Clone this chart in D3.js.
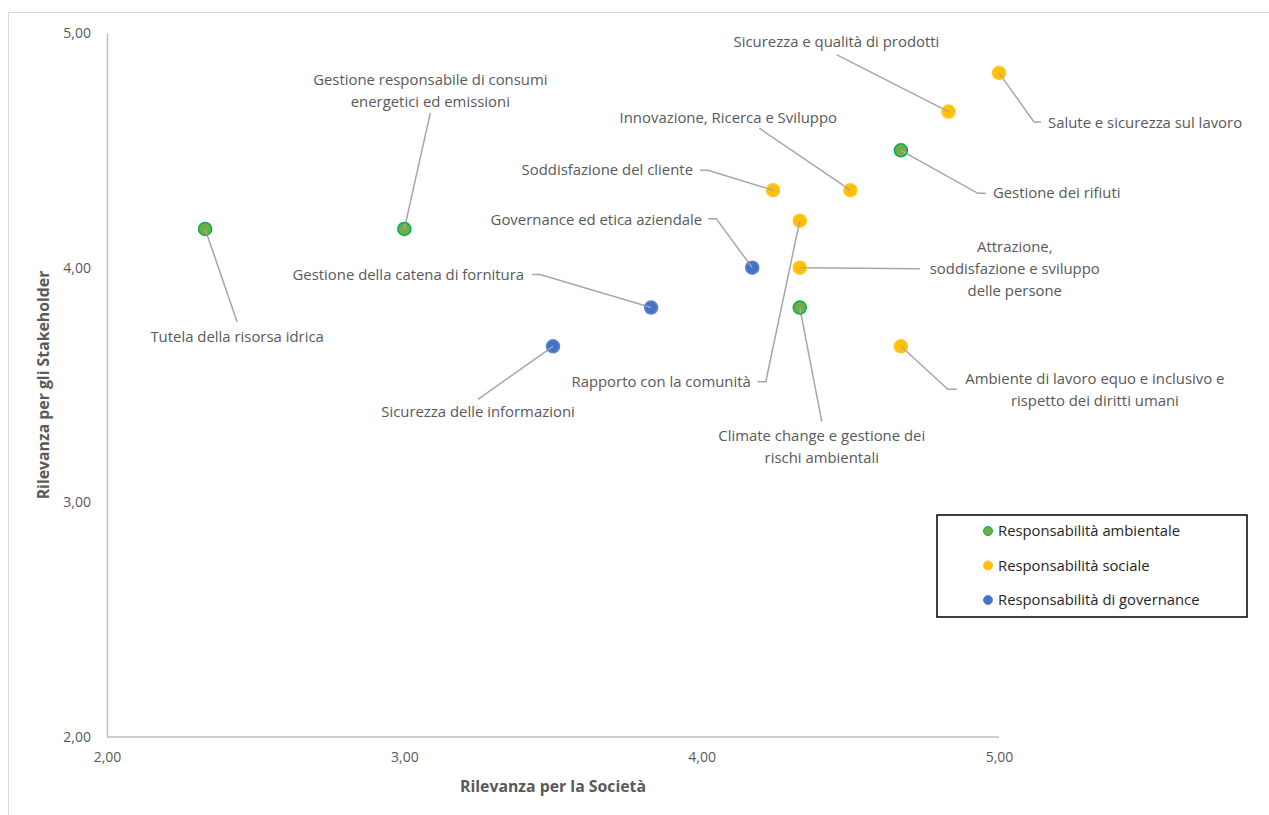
<!DOCTYPE html>
<html lang="it">
  <head>
    <meta charset="UTF-8">
    <title>Matrice di materialità</title>
    <style>
      body { margin: 0; background: #fff; }
      svg { display: block; font-family: "Open Sans", Lato, sans-serif; }
    </style>
    <script src="https://d3js.org/d3.v7.min.js"></script>
  </head>
  <body>
    <script>
      // temi materiali
      var topics = [
        ["Tutela della risorsa idrica"],
        ["Gestione responsabile di consumi", "energetici ed emissioni"],
        ["Sicurezza delle informazioni"],
        ["Gestione della catena di fornitura"],
        ["Governance ed etica aziendale"],
        ["Soddisfazione del cliente"],
        ["Innovazione, Ricerca e Sviluppo"],
        ["Sicurezza e qualità di prodotti"],
        ["Salute e sicurezza sul lavoro"],
        ["Gestione dei rifiuti"],
        ["Attrazione,", "soddisfazione e sviluppo", "delle persone"],
        ["Rapporto con la comunità"],
        ["Climate change e gestione dei", "rischi ambientali"],
        ["Ambiente di lavoro equo e inclusivo e", "rispetto dei diritti umani"]
      ];
      var societa     = [2.33, 3.00, 3.50, 3.83, 4.17, 4.24, 4.50, 4.83, 5.00, 4.67, 4.33, 4.33, 4.33, 4.67];
      var stakeholder = [4.165, 4.165, 3.665, 3.83, 4.00, 4.33, 4.33, 4.665, 4.83, 4.50, 4.00, 4.20, 3.83, 3.665];
      var area = ["amb", "amb", "gov", "gov", "gov", "soc", "soc", "soc", "soc", "amb", "soc", "soc", "amb", "soc"];

      var groupKeys = ["amb", "soc", "gov"];
      var groupNames = ["Responsabilità ambientale", "Responsabilità sociale", "Responsabilità di governance"];
      var tickValues = [2, 3, 4, 5];

      // label placement, pixel offsets from the point (layout only)
      var labelLayout = [
        {dx: 32, dy: 108, anchor: "middle", leader: [[32, 93]]},
        {dx: 26, dy: -149, anchor: "middle", leader: [[26, -116]]},
        {dx: -75, dy: 66, anchor: "middle", leader: [[-75, 53]]},
        {dx: -127, dy: -33, anchor: "end", leader: [[-111, -33], [-119, -33]]},
        {dx: -50, dy: -48, anchor: "end", leader: [[-36, -49], [-44, -49]]},
        {dx: -80, dy: -20, anchor: "end", leader: [[-65, -20], [-73, -20]]},
        {dx: -122, dy: -72, anchor: "middle", leader: [[-91, -62]]},
        {dx: -112, dy: -70, anchor: "middle", leader: [[-112, -57]]},
        {dx: 49, dy: 50, anchor: "start", leader: [[35, 49], [42, 49]]},
        {dx: 92, dy: 43, anchor: "start", leader: [[77, 43], [85, 43]]},
        {dx: 215, dy: -21, anchor: "middle", leader: [[120, 1]]},
        {dx: -49, dy: 161, anchor: "end", leader: [[-34, 161], [-42, 161]]},
        {dx: 22, dy: 128, anchor: "middle", leader: [[22, 114]]},
        {dx: 194, dy: 33, anchor: "middle", leader: [[47, 43], [56, 43]]}
      ];

      var fill = {amb: "#70ad47", soc: "#ffc000", gov: "#4472c4"};
      var edge = {amb: "#00b050", soc: "#ffc720", gov: "#5b85d0"};
      var fmt = function (d) { return d3.format(".2f")(d).replace(".", ","); };

      var width = 1269, height = 815;
      var svg = d3.select("body").append("svg")
        .attr("width", width)
        .attr("height", height);

      svg.append("rect")
        .attr("x", 8.5).attr("y", 12.5)
        .attr("width", 1400).attr("height", 900)
        .attr("fill", "#fff")
        .attr("stroke", "#d9d9d9");

      var x = d3.scaleLinear().domain([2, 5]).range([107, 999]);
      var y = d3.scaleLinear().domain([2, 5]).range([737, 33]);

      var xAxis = d3.axisBottom(x).tickValues(tickValues).tickFormat(fmt).tickSize(0).tickPadding(15);
      var yAxis = d3.axisLeft(y).tickValues(tickValues).tickFormat(fmt).tickSize(0).tickPadding(16);

      var gx = svg.append("g").attr("transform", "translate(0,737)").call(xAxis);
      var gy = svg.append("g").attr("transform", "translate(107,0)").call(yAxis);
      [gx, gy].forEach(function (g) {
        g.select(".domain").attr("stroke", "#bfbfbf").attr("stroke-width", 1.5);
        g.selectAll("text").attr("fill", "#595959").style("font-size", "14px")
          .style("font-family", "'Open Sans', Lato, sans-serif");
      });
      gx.select(".domain").attr("d", "M107,0H999");

      svg.append("text")
        .attr("x", 553).attr("y", 792)
        .attr("text-anchor", "middle")
        .attr("fill", "#595959")
        .style("font-size", "15.8px").style("font-weight", "bold")
        .text("Rilevanza per la Società");

      svg.append("text")
        .attr("transform", "translate(49,385) rotate(-90)")
        .attr("text-anchor", "middle")
        .attr("fill", "#595959")
        .style("font-size", "15.8px").style("font-weight", "bold")
        .text("Rilevanza per gli Stakeholder");

      var idx = d3.range(topics.length);

      // leader lines
      svg.append("g").selectAll("polyline").data(idx).enter()
        .append("polyline")
        .attr("points", function (i) {
          var px = x(societa[i]), py = y(stakeholder[i]);
          var pts = [[px, py]].concat(labelLayout[i].leader.map(function (p) {
            return [px + p[0], py + p[1]];
          }));
          return pts.map(function (p) { return p.join(","); }).join(" ");
        })
        .attr("fill", "none")
        .attr("stroke", "#a6a6a6")
        .attr("stroke-width", 1.5);

      // points
      svg.append("g").selectAll("circle").data(idx).enter()
        .append("circle")
        .attr("cx", function (i) { return x(societa[i]); })
        .attr("cy", function (i) { return y(stakeholder[i]); })
        .attr("r", 6.5)
        .attr("fill", function (i) { return fill[area[i]]; })
        .attr("stroke", function (i) { return edge[area[i]]; })
        .attr("stroke-width", 1.5);

      // leader start drawn again over the marker
      svg.append("g").selectAll("line").data(idx).enter()
        .append("line")
        .attr("x1", function (i) { return x(societa[i]); })
        .attr("y1", function (i) { return y(stakeholder[i]); })
        .attr("x2", function (i) {
          var p = labelLayout[i].leader[0];
          return x(societa[i]) + p[0] / Math.hypot(p[0], p[1]) * 6;
        })
        .attr("y2", function (i) {
          var p = labelLayout[i].leader[0];
          return y(stakeholder[i]) + p[1] / Math.hypot(p[0], p[1]) * 6;
        })
        .attr("stroke", "#a6a6a6")
        .attr("stroke-width", 1.5);

      // labels
      var labels = svg.append("g").selectAll("text").data(idx).enter()
        .append("text")
        .attr("text-anchor", function (i) { return labelLayout[i].anchor; })
        .attr("fill", "#595959")
        .style("font-size", "14.9px");
      labels.each(function (i) {
        var t = d3.select(this);
        var px = x(societa[i]) + labelLayout[i].dx;
        var py = y(stakeholder[i]) + labelLayout[i].dy;
        topics[i].forEach(function (line, k) {
          t.append("tspan").attr("x", px).attr("y", py + 5 + k * 22).text(line);
        });
      });

      // legend
      var lg = svg.append("g").attr("transform", "translate(937,515)");
      lg.append("rect")
        .attr("width", 310).attr("height", 102)
        .attr("fill", "#fff")
        .attr("stroke", "#000").attr("stroke-width", 1.5);
      var items = lg.selectAll("g.item").data(groupKeys).enter()
        .append("g").attr("class", "item")
        .attr("transform", function (d, i) { return "translate(0," + (16 + i * 34.5) + ")"; });
      items.append("circle")
        .attr("cx", 51).attr("r", 4.5)
        .attr("fill", function (d) { return fill[d]; })
        .attr("stroke", function (d) { return edge[d]; });
      items.append("text")
        .attr("x", 61).attr("y", 5)
        .attr("fill", "#262626")
        .style("font-size", "14.8px")
        .text(function (d, i) { return groupNames[i]; });
    </script>
  </body>
</html>
